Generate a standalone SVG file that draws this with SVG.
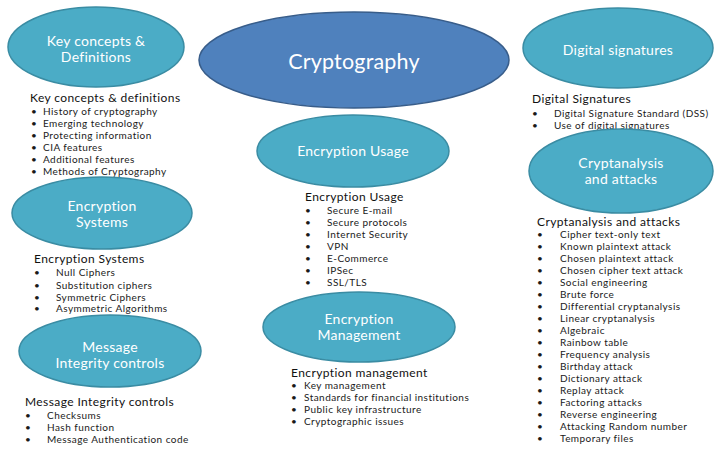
<svg xmlns="http://www.w3.org/2000/svg" width="720" height="450" viewBox="0 0 720 450">
<style>
.bg{fill:#ffffff}
.sub{fill:#4bacc6;stroke:#3a8ca3;stroke-width:1.5}
.main{fill:#4f81bd;stroke:#385d8a;stroke-width:1.5}
.lbl{font-family:Lato,"Liberation Sans",sans-serif;font-size:14px;letter-spacing:0.25px;fill:#ffffff;text-anchor:middle}
.title{font-family:Lato,"Liberation Sans",sans-serif;font-size:21.5px;letter-spacing:0.2px;fill:#ffffff;text-anchor:middle}
.hd{font-family:Lato,"Liberation Sans",sans-serif;font-size:12px;letter-spacing:0.4px;fill:#111111}
.it{font-family:Lato,"Liberation Sans",sans-serif;font-size:10px;letter-spacing:0.45px;fill:#1a1a1a}
</style>
<rect class="bg" x="0" y="0" width="720" height="450"/>
<g id="connectors"/>

<g id="cryptography">
<ellipse class="main" cx="354" cy="60" rx="155" ry="48"/>
<text class="title" x="354" y="69">Cryptography</text>
</g>

<g id="key-concepts">
<ellipse class="sub" cx="96" cy="47" rx="88" ry="40"/>
<text class="lbl" x="96" y="46">Key concepts &amp;</text>
<text class="lbl" x="96" y="62">Definitions</text>
<text class="hd" x="30" y="102">Key concepts &amp; definitions</text>
<g class="it">
<text x="31" y="115">•</text><text x="43" y="115">History of cryptography</text>
<text x="31" y="127">•</text><text x="43" y="127">Emerging technology</text>
<text x="31" y="139">•</text><text x="43" y="139">Protecting information</text>
<text x="31" y="151">•</text><text x="43" y="151">CIA features</text>
<text x="31" y="163">•</text><text x="43" y="163">Additional features</text>
<text x="31" y="175">•</text><text x="43" y="175">Methods of Cryptography</text>
</g>
</g>

<g id="encryption-systems">
<ellipse class="sub" cx="102" cy="213" rx="90" ry="36"/>
<text class="lbl" x="102" y="211">Encryption</text>
<text class="lbl" x="102" y="227">Systems</text>
<text class="hd" x="34" y="263">Encryption Systems</text>
<g class="it">
<text x="34" y="276">•</text><text x="56" y="276">Null Ciphers</text>
<text x="34" y="288.5">•</text><text x="56" y="288.5">Substitution ciphers</text>
<text x="34" y="300.5">•</text><text x="56" y="300.5">Symmetric Ciphers</text>
<text x="34" y="312">•</text><text x="56" y="312">Asymmetric Algorithms</text>
</g>
</g>

<g id="message-integrity">
<ellipse class="sub" cx="110" cy="351" rx="91" ry="36"/>
<text class="lbl" x="110" y="352">Message</text>
<text class="lbl" x="110" y="368">Integrity controls</text>
<text class="hd" x="25" y="406">Message Integrity controls</text>
<g class="it">
<text x="25" y="419">•</text><text x="47" y="419">Checksums</text>
<text x="25" y="431">•</text><text x="47" y="431">Hash function</text>
<text x="25" y="443">•</text><text x="47" y="443">Message Authentication code</text>
</g>
</g>

<g id="encryption-usage">
<ellipse class="sub" cx="353" cy="151" rx="96" ry="36"/>
<text class="lbl" x="353" y="156">Encryption Usage</text>
<text class="hd" x="305" y="201">Encryption Usage</text>
<g class="it">
<text x="305" y="214">•</text><text x="327" y="214">Secure E-mail</text>
<text x="305" y="226">•</text><text x="327" y="226">Secure protocols</text>
<text x="305" y="238">•</text><text x="327" y="238">Internet Security</text>
<text x="305" y="250">•</text><text x="327" y="250">VPN</text>
<text x="305" y="262">•</text><text x="327" y="262">E-Commerce</text>
<text x="305" y="274">•</text><text x="327" y="274">IPSec</text>
<text x="305" y="286">•</text><text x="327" y="286">SSL/TLS</text>
</g>
</g>

<g id="encryption-management">
<ellipse class="sub" cx="359" cy="327" rx="96" ry="35"/>
<text class="lbl" x="359" y="324">Encryption</text>
<text class="lbl" x="359" y="340">Management</text>
<text class="hd" x="291" y="377">Encryption management</text>
<g class="it">
<text x="291" y="389">•</text><text x="304" y="389">Key management</text>
<text x="291" y="401">•</text><text x="304" y="401">Standards for financial institutions</text>
<text x="291" y="413">•</text><text x="304" y="413">Public key infrastructure</text>
<text x="291" y="425">•</text><text x="304" y="425">Cryptographic issues</text>
</g>
</g>

<g id="digital-signatures">
<ellipse class="sub" cx="618" cy="48" rx="95" ry="40"/>
<text class="lbl" x="618" y="55">Digital signatures</text>
<text class="hd" x="532" y="103">Digital Signatures</text>
<g class="it">
<text x="532" y="117">•</text><text x="554" y="117">Digital Signature Standard (DSS)</text>
<text x="532" y="128.5">•</text><text x="554" y="128.5">Use of digital signatures</text>
</g>
</g>

<g id="cryptanalysis">
<ellipse class="sub" cx="621" cy="171" rx="92" ry="42"/>
<text class="lbl" x="621" y="168">Cryptanalysis</text>
<text class="lbl" x="621" y="184">and attacks</text>
<text class="hd" x="537" y="226">Cryptanalysis and attacks</text>
<g class="it">
<text x="537" y="238">•</text><text x="560" y="238">Cipher text-only text</text>
<text x="537" y="250">•</text><text x="560" y="250">Known plaintext attack</text>
<text x="537" y="262">•</text><text x="560" y="262">Chosen plaintext attack</text>
<text x="537" y="274">•</text><text x="560" y="274">Chosen cipher text attack</text>
<text x="537" y="286">•</text><text x="560" y="286">Social engineering</text>
<text x="537" y="298">•</text><text x="560" y="298">Brute force</text>
<text x="537" y="310">•</text><text x="560" y="310">Differential cryptanalysis</text>
<text x="537" y="322">•</text><text x="560" y="322">Linear cryptanalysis</text>
<text x="537" y="334">•</text><text x="560" y="334">Algebraic</text>
<text x="537" y="346">•</text><text x="560" y="346">Rainbow table</text>
<text x="537" y="358">•</text><text x="560" y="358">Frequency analysis</text>
<text x="537" y="370">•</text><text x="560" y="370">Birthday attack</text>
<text x="537" y="382">•</text><text x="560" y="382">Dictionary attack</text>
<text x="537" y="394">•</text><text x="560" y="394">Replay attack</text>
<text x="537" y="406">•</text><text x="560" y="406">Factoring attacks</text>
<text x="537" y="418">•</text><text x="560" y="418">Reverse engineering</text>
<text x="537" y="430">•</text><text x="560" y="430">Attacking Random number</text>
<text x="537" y="442">•</text><text x="560" y="442">Temporary files</text>
</g>
</g>
</svg>
